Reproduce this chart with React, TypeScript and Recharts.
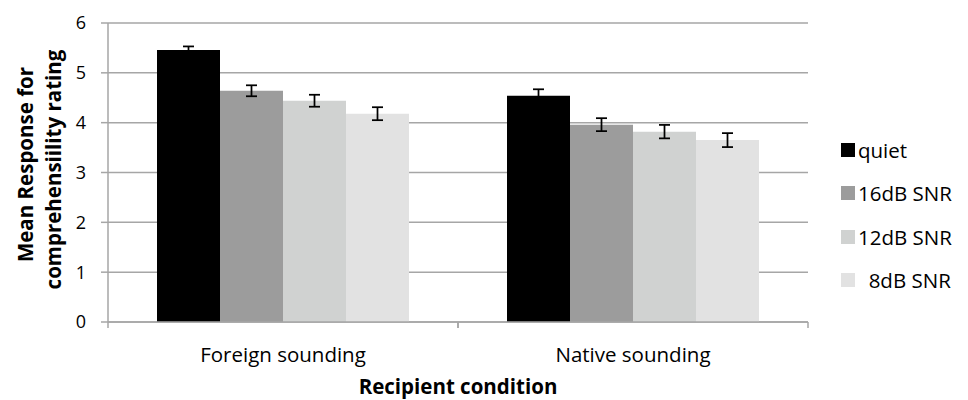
import React from 'react';
import { BarChart, Bar, XAxis, YAxis, CartesianGrid, ErrorBar, Legend, Label } from 'recharts';

const categories = ['Foreign sounding', 'Native sounding'];
const quiet = [5.46, 4.54];
const quietErr = [0.07, 0.13];
const snr16 = [4.64, 3.96];
const snr16Err = [0.11, 0.13];
const snr12 = [4.44, 3.82];
const snr12Err = [0.12, 0.135];
const snr8 = [4.18, 3.65];
const snr8Err = [0.13, 0.14];
const yTicks = [0, 1, 2, 3, 4, 5, 6];
const seriesKeys = ['quiet', 'snr16', 'snr12', 'snr8'];
const seriesNames = ['quiet', '16dB SNR', '12dB SNR', '  8dB SNR'];
const seriesColors = ['#000000', '#9c9c9c', '#d0d2d1', '#e2e2e2'];

const data = categories.map((c, i) => ({
  name: c,
  quiet: quiet[i],
  quietErr: quietErr[i],
  snr16: snr16[i],
  snr16Err: snr16Err[i],
  snr12: snr12[i],
  snr12Err: snr12Err[i],
  snr8: snr8[i],
  snr8Err: snr8Err[i],
}));

const FONT = "'Open Sans', sans-serif";
const AXIS = '#a6a6a6';
const FS = 20.5;

const XTick = (props: any) => {
  const { x, y, payload } = props;
  const half = payload && payload.offset ? payload.offset : 175;
  return (
    <g>
      <line x1={x - half} y1={y} x2={x - half} y2={y + 6} stroke={AXIS} strokeWidth={1.5} />
      <line x1={x + half} y1={y} x2={x + half} y2={y + 6} stroke={AXIS} strokeWidth={1.5} />
      <text x={x} y={y + 40} textAnchor="middle" fontFamily={FONT} fontSize={FS} fill="#000">
        {payload.value}
      </text>
    </g>
  );
};

const YTitle = (props: any) => {
  const vb = props.viewBox || {};
  const cy = vb.y + vb.height / 2;
  const y1 = cy - 8;
  const y2 = cy - 3;
  return (
    <g>
      <text
        x={33}
        y={y1}
        transform={`rotate(-90, 33, ${y1})`}
        textAnchor="middle"
        fontFamily={FONT}
        fontWeight="bold"
        fontSize={FS}
        fill="#000"
      >
        Mean Response for
      </text>
      <text
        x={61}
        y={y2}
        transform={`rotate(-90, 61, ${y2})`}
        textAnchor="middle"
        fontFamily={FONT}
        fontWeight="bold"
        fontSize={FS}
        fill="#000"
      >
        comprehensiility rating
      </text>
    </g>
  );
};

const LegendContent = () => (
  <div style={{ fontFamily: FONT, fontSize: FS, color: '#000', lineHeight: 1 }}>
    {seriesNames.map((n, i) => (
      <div key={n} style={{ display: 'flex', alignItems: 'center', height: 43.5 }}>
        <span style={{ display: 'inline-block', width: 14, height: 14, background: seriesColors[i], marginRight: 3 }} />
        <span style={{ whiteSpace: 'pre' }}>{n}</span>
      </div>
    ))}
  </div>
);

export default function App() {
  return (
    <div style={{ position: 'absolute', left: 0, top: 0, background: '#fff' }}>
      <BarChart
        width={968}
        height={400}
        data={data}
        margin={{ top: 23, right: 160, bottom: 0, left: 8 }}
        barCategoryGap="14%"
        barGap={0}
      >
        <CartesianGrid horizontal vertical={false} stroke={AXIS} strokeWidth={1.5} />
        <XAxis
          dataKey="name"
          axisLine={{ stroke: AXIS, strokeWidth: 1.5 }}
          tickLine={false}
          tickSize={0}
          tickMargin={0}
          tick={<XTick />}
          height={78}
          interval={0}
        >
          <Label
            value="Recipient condition"
            position="insideBottom"
            offset={6}
            style={{ fontFamily: FONT, fontWeight: 'bold', fontSize: FS, fill: '#000' }}
          />
        </XAxis>
        <YAxis
          width={100}
          domain={[0, 6]}
          ticks={yTicks}
          axisLine={{ stroke: AXIS, strokeWidth: 1.5 }}
          tickLine={{ stroke: AXIS, strokeWidth: 1.5 }}
          tickSize={7}
          tickMargin={15}
          tick={{ fontFamily: FONT, fontSize: 18, fill: '#000' }}
          label={<Label content={<YTitle />} />}
        />
        <Legend
          layout="vertical"
          align="center"
          verticalAlign="middle"
          content={<LegendContent />}
          wrapperStyle={{ left: 841, top: 128, width: 'auto' }}
        />
        {seriesKeys.map((k, i) => (
          <Bar key={k} dataKey={k} name={seriesNames[i]} fill={seriesColors[i]} isAnimationActive={false}>
            <ErrorBar dataKey={`${k}Err`} width={5.5} stroke="#000" strokeWidth={1.75} />
          </Bar>
        ))}
      </BarChart>
    </div>
  );
}
